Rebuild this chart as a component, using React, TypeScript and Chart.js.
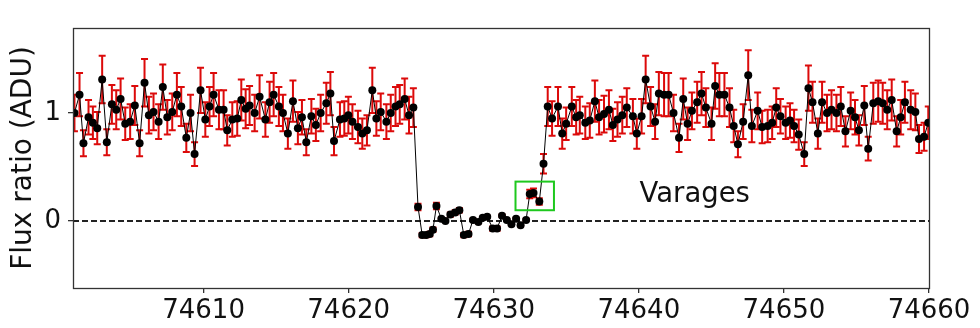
import { useEffect, useRef } from "react";
import { Chart, registerables } from "chart.js";

Chart.register(...registerables);

// Observation times (days)
const times = [
  74601.10, 74601.45, 74601.72, 74602.07, 74602.37, 74602.67, 74603.01, 74603.33, 74603.68, 74603.98,
  74604.28, 74604.60, 74604.94, 74605.26, 74605.59, 74605.93, 74606.23, 74606.55, 74606.90, 74607.19,
  74607.50, 74607.84, 74608.16, 74608.46, 74608.81, 74609.10, 74609.38, 74609.79, 74610.12, 74610.41,
  74610.69, 74611.06, 74611.38, 74611.63, 74611.98, 74612.32, 74612.60, 74612.90, 74613.17, 74613.52,
  74613.86, 74614.26, 74614.55, 74614.83, 74615.19, 74615.47, 74615.81, 74616.16, 74616.50, 74616.78,
  74617.08, 74617.43, 74617.74, 74618.07, 74618.46, 74618.74, 74618.99, 74619.40, 74619.70, 74619.98,
  74620.26, 74620.64, 74620.94, 74621.26, 74621.63, 74621.91, 74622.21, 74622.60, 74622.90, 74623.23,
  74623.52, 74623.86, 74624.16, 74624.46,
  74624.78, 74625.07, 74625.34, 74625.59, 74625.81, 74626.05, 74626.39, 74626.67, 74627.01, 74627.34,
  74627.63, 74627.94, 74628.26, 74628.57, 74628.94, 74629.24, 74629.55, 74629.93, 74630.23, 74630.57,
  74630.90, 74631.22, 74631.54, 74631.85, 74632.23, 74632.48, 74632.74, 74633.14, 74633.43,
  74633.72, 74634.02, 74634.43, 74634.72, 74634.99, 74635.38, 74635.68, 74635.93, 74636.31, 74636.62,
  74636.97, 74637.26, 74637.60, 74637.94, 74638.21, 74638.53, 74638.86, 74639.17, 74639.59, 74639.86,
  74640.19, 74640.47, 74640.81, 74641.12, 74641.38, 74641.74, 74642.05, 74642.39, 74642.77, 74643.06,
  74643.36, 74643.66, 74644.02, 74644.32, 74644.62, 74645.01, 74645.26, 74645.55, 74645.90, 74646.25,
  74646.54, 74646.83, 74647.19, 74647.54, 74647.79, 74648.19, 74648.50, 74648.88, 74649.19, 74649.47,
  74649.76, 74650.12, 74650.42, 74650.70, 74651.02, 74651.40, 74651.69, 74651.97, 74652.34, 74652.63,
  74652.97, 74653.28, 74653.62, 74653.92, 74654.24, 74654.60, 74654.90, 74655.17, 74655.54, 74655.81,
  74656.16, 74656.50, 74656.81, 74657.12, 74657.43, 74657.77, 74658.05, 74658.34, 74658.74, 74659.06,
  74659.31, 74659.66, 74659.95,
];

// Flux ratio (ADU)
const flux = [
  1.00, 1.17, 0.72, 0.96, 0.91, 0.86, 1.31, 0.73, 1.08, 1.03,
  1.13, 0.90, 0.92, 1.07, 0.72, 1.28, 0.98, 1.01, 0.92, 1.24,
  0.96, 1.01, 1.17, 1.06, 0.77, 1.00, 0.62, 1.21, 0.94, 1.06,
  1.17, 1.03, 1.03, 0.84, 0.94, 0.95, 1.12, 1.04, 1.07, 1.00,
  1.15, 0.94, 1.10, 1.17, 1.06, 1.00, 0.81, 1.11, 0.86, 0.96,
  0.73, 0.97, 0.89, 1.00, 1.09, 1.18, 0.74, 0.94, 0.95, 0.98,
  0.92, 0.87, 0.81, 0.84, 1.21, 0.95, 1.01, 0.92, 1.00, 1.06,
  1.08, 1.13, 0.98, 1.05,
  0.13, -0.13, -0.13, -0.12, -0.08, 0.14, 0.02, 0.00, 0.06, 0.08,
  0.10, -0.13, -0.12, 0.01, -0.01, 0.03, 0.04, -0.07, -0.07, 0.05,
  0.01, -0.03, 0.02, -0.04, 0.01, 0.25, 0.26, 0.18, 0.53,
  1.06, 0.95, 1.06, 0.81, 0.90, 1.06, 0.96, 0.98, 0.91, 0.93,
  1.11, 0.96, 0.99, 1.03, 0.89, 0.94, 0.98, 1.05, 0.97, 0.81,
  0.97, 1.31, 1.06, 0.92, 1.18, 1.17, 1.17, 1.00, 0.77, 1.13,
  0.90, 1.02, 1.10, 1.18, 1.05, 0.90, 1.25, 1.17, 1.17, 1.05,
  0.88, 0.71, 0.92, 1.35, 0.88, 1.02, 0.87, 0.88, 0.91, 1.05,
  0.97, 0.91, 0.93, 0.88, 0.80, 0.62, 1.23, 1.10, 0.81, 1.10,
  1.00, 1.03, 1.00, 1.06, 0.83, 1.02, 0.96, 0.84, 1.07, 0.67,
  1.09, 1.11, 1.09, 1.03, 1.12, 0.83, 0.96, 1.10, 1.03, 1.01,
  0.76, 0.78, 0.91,
];

// 1-sigma uncertainties
const fluxErr = [
  0.17, 0.20, 0.12, 0.16, 0.15, 0.15, 0.22, 0.12, 0.18, 0.18,
  0.19, 0.15, 0.16, 0.18, 0.12, 0.22, 0.17, 0.17, 0.16, 0.21,
  0.16, 0.17, 0.20, 0.18, 0.13, 0.17, 0.11, 0.21, 0.16, 0.18,
  0.20, 0.18, 0.18, 0.14, 0.16, 0.16, 0.19, 0.18, 0.18, 0.17,
  0.20, 0.16, 0.19, 0.20, 0.18, 0.17, 0.14, 0.19, 0.15, 0.16,
  0.12, 0.16, 0.15, 0.17, 0.19, 0.20, 0.13, 0.16, 0.16, 0.17,
  0.16, 0.15, 0.14, 0.14, 0.21, 0.16, 0.17, 0.16, 0.17, 0.18,
  0.18, 0.19, 0.17, 0.18,
  0.03, 0.02, 0.02, 0.02, 0.02, 0.03, 0.01, 0.01, 0.02, 0.02,
  0.02, 0.02, 0.02, 0.01, 0.01, 0.01, 0.01, 0.02, 0.02, 0.01,
  0.01, 0.01, 0.01, 0.01, 0.01, 0.04, 0.04, 0.03, 0.09,
  0.18, 0.16, 0.18, 0.14, 0.15, 0.18, 0.16, 0.17, 0.15, 0.16,
  0.19, 0.16, 0.17, 0.18, 0.15, 0.16, 0.17, 0.18, 0.16, 0.14,
  0.16, 0.22, 0.18, 0.16, 0.20, 0.20, 0.20, 0.17, 0.13, 0.19,
  0.15, 0.17, 0.19, 0.20, 0.18, 0.15, 0.21, 0.20, 0.20, 0.18,
  0.15, 0.12, 0.16, 0.23, 0.15, 0.17, 0.15, 0.15, 0.15, 0.18,
  0.16, 0.15, 0.16, 0.15, 0.14, 0.11, 0.21, 0.19, 0.14, 0.19,
  0.17, 0.18, 0.17, 0.18, 0.14, 0.17, 0.16, 0.14, 0.18, 0.11,
  0.19, 0.19, 0.19, 0.18, 0.19, 0.14, 0.16, 0.19, 0.18, 0.17,
  0.13, 0.13, 0.15,
];

const xTicks = [74610, 74620, 74630, 74640, 74650, 74660];
const yTicks = [0, 1];
const xRange = [74601, 74660];
const yRange = [-0.62, 1.787];
const siteLabel = "Varages";
const siteLabelAt = [74640.05, 0.18];
const boxX = [74631.5, 74634.15];
const boxY = [0.10, 0.365];
const yTitle = "Flux ratio (ADU)";

const FONT = "'DejaVu Sans', sans-serif";

const overlay = {
  id: "overlay",
  beforeDatasetsDraw(chart: any) {
    const { ctx, chartArea: a, scales } = chart;
    const xs = scales.x;
    const ys = scales.y;
    ctx.save();
    ctx.beginPath();
    ctx.rect(a.left, a.top, a.right - a.left, a.bottom - a.top);
    ctx.clip();
    ctx.strokeStyle = "#dc0a0a";
    ctx.lineWidth = 2;
    const cap = 3.5;
    for (let i = 0; i < times.length; i++) {
      const px = xs.getPixelForValue(times[i]);
      const top = ys.getPixelForValue(flux[i] + fluxErr[i]);
      const bot = ys.getPixelForValue(flux[i] - fluxErr[i]);
      ctx.beginPath();
      ctx.moveTo(px, top);
      ctx.lineTo(px, bot);
      ctx.moveTo(px - cap, top);
      ctx.lineTo(px + cap, top);
      ctx.moveTo(px - cap, bot);
      ctx.lineTo(px + cap, bot);
      ctx.stroke();
    }
    ctx.restore();
  },
  afterDatasetsDraw(chart: any) {
    const { ctx, chartArea: a, scales } = chart;
    const xs = scales.x;
    const ys = scales.y;
    ctx.save();
    // green box
    const bx0 = xs.getPixelForValue(boxX[0]);
    const bx1 = xs.getPixelForValue(boxX[1]);
    const by0 = ys.getPixelForValue(boxY[1]);
    const by1 = ys.getPixelForValue(boxY[0]);
    ctx.strokeStyle = "#1ec81e";
    ctx.lineWidth = 2;
    ctx.strokeRect(bx0, by0, bx1 - bx0, by1 - by0);
    // label
    ctx.fillStyle = "#111";
    ctx.font = `27.5px ${FONT}`;
    ctx.textAlign = "left";
    ctx.textBaseline = "alphabetic";
    ctx.fillText(siteLabel, xs.getPixelForValue(siteLabelAt[0]), ys.getPixelForValue(siteLabelAt[1]));
    // frame
    ctx.strokeStyle = "#333";
    ctx.lineWidth = 1.3;
    ctx.strokeRect(Math.round(a.left) + 0.5, Math.round(a.top) + 0.5, Math.round(a.right - a.left), Math.round(a.bottom - a.top));
    ctx.restore();
  },
};

export default function App() {
  const ref = useRef<HTMLCanvasElement | null>(null);
  useEffect(() => {
    if (!ref.current) return;
    const points = times.map((t, i) => ({ x: t, y: flux[i] }));
    const chart = new Chart(ref.current, {
      type: "line",
      data: {
        datasets: [
          {
            data: points,
            borderColor: "#000",
            borderWidth: 1,
            backgroundColor: "#000",
            pointRadius: 4,
            pointBorderWidth: 0,
            pointBackgroundColor: "#000",
            tension: 0,
          },
          {
            data: [
              { x: xRange[0], y: 0 },
              { x: xRange[1], y: 0 },
            ],
            borderColor: "#222",
            borderWidth: 2,
            borderDash: [6, 3],
            pointRadius: 0,
            tension: 0,
          },
        ],
      },
      options: {
        responsive: false,
        animation: false,
        events: [],
        layout: { padding: { top: 28, right: 51, left: 0, bottom: 0 } },
        plugins: {
          legend: { display: false },
          tooltip: { enabled: false },
        },
        scales: {
          x: {
            type: "linear",
            min: xRange[0],
            max: xRange[1],
            afterBuildTicks: (s: any) => {
              s.ticks = xTicks.map((v) => ({ value: v }));
            },
            afterFit: (s: any) => {
              s.height = 40;
            },
            border: { display: false },
            grid: { drawOnChartArea: false, drawTicks: true, tickLength: 5, color: "#333", lineWidth: 1.3 },
            ticks: {
              padding: 3,
              color: "#111",
              font: { family: FONT, size: 26 },
              maxRotation: 0,
              autoSkip: false,
              callback: (v: any) => String(v),
            },
          },
          y: {
            type: "linear",
            min: yRange[0],
            max: yRange[1],
            afterBuildTicks: (s: any) => {
              s.ticks = yTicks.map((v) => ({ value: v }));
            },
            afterFit: (s: any) => {
              s.width = 73;
            },
            border: { display: false },
            grid: { drawOnChartArea: false, drawTicks: true, tickLength: 5, color: "#333", lineWidth: 1.3 },
            ticks: {
              padding: 7,
              color: "#111",
              font: { family: FONT, size: 26 },
              callback: (v: any) => String(v),
            },
            title: {
              display: true,
              text: yTitle,
              color: "#111",
              font: { family: FONT, size: 28 },
              padding: { top: 7, bottom: 0 },
            },
          },
        },
      },
      plugins: [overlay],
    });
    return () => chart.destroy();
  }, []);
  return (
    <div style={{ position: "fixed", left: 0, top: 0, width: 980, height: 328, background: "#fff" }}>
      <canvas ref={ref} width={980} height={328} style={{ display: "block" }} />
    </div>
  );
}
